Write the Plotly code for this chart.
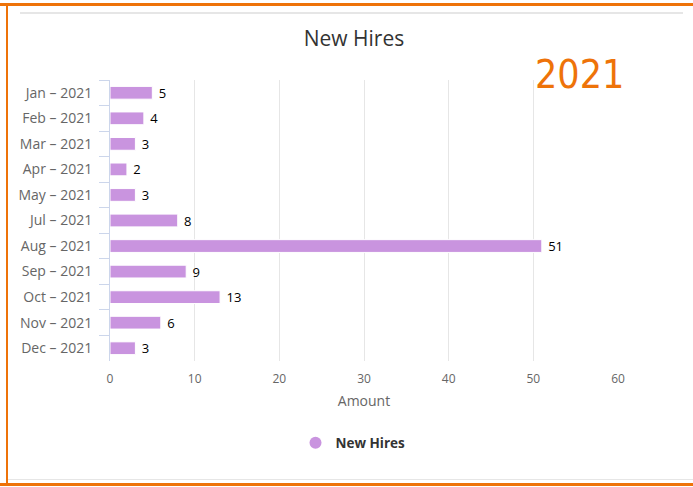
import plotly.graph_objects as go

categories = ["Jan – 2021", "Feb – 2021", "Mar – 2021", "Apr – 2021", "May – 2021",
              "Jul – 2021", "Aug – 2021", "Sep – 2021", "Oct – 2021", "Nov – 2021", "Dec – 2021"]
new_hires = [5, 4, 3, 2, 3, 8, 51, 9, 13, 6, 3]
x_ticks = [0, 10, 20, 30, 40, 50, 60]

W, H = 693, 487
ML, MR, MT, MB = 110, 75, 80, 126
PW, PH = W - ML - MR, H - MT - MB

def px(x):
    return (x - ML) / PW

def py(y):
    return (H - MB - y) / PH

FONT = "Open Sans, Noto Sans, sans-serif"
BAR = "#c994df"
ORANGE = "#ee7309"

fig = go.Figure()
fig.add_trace(go.Bar(
    x=new_hires, y=categories, orientation="h",
    marker=dict(color=BAR, line=dict(color="white", width=1)),
    width=0.5,
    text=new_hires, texttemplate="\u00a0%{x}", textposition="outside",
    constraintext="none", cliponaxis=False,
    textfont=dict(family=FONT, size=13, color="#000000"),
    showlegend=False, hoverinfo="skip",
))
fig.add_trace(go.Scatter(
    x=[None], y=[None], mode="markers", name="New Hires",
    marker=dict(color=BAR, size=12, symbol="circle"),
    showlegend=True,
))

shapes = []
# orange frame
shapes.append(dict(type="line", xref="paper", yref="paper", x0=px(0), x1=px(W), y0=py(4.5), y1=py(4.5),
                   line=dict(color=ORANGE, width=3)))
shapes.append(dict(type="line", xref="paper", yref="paper", x0=px(0), x1=px(W), y0=py(484.5), y1=py(484.5),
                   line=dict(color=ORANGE, width=3)))
shapes.append(dict(type="line", xref="paper", yref="paper", x0=px(7), x1=px(7), y0=py(4), y1=py(485),
                   line=dict(color=ORANGE, width=2)))
# grey separators
shapes.append(dict(type="line", xref="paper", yref="paper", x0=px(20), x1=px(683), y0=py(13), y1=py(13),
                   line=dict(color="#e6e6e6", width=2)))
shapes.append(dict(type="line", xref="paper", yref="paper", x0=px(8), x1=px(W), y0=py(479.5), y1=py(479.5),
                   line=dict(color="#e6e6e6", width=1)))

fig.update_layout(
    width=W, height=H,
    margin=dict(l=ML, r=MR, t=MT, b=MB, pad=0),
    paper_bgcolor="white", plot_bgcolor="white",
    font=dict(family=FONT, color="#666666"),
    title=dict(text="New Hires", x=354 / W, xref="container", xanchor="center",
               y=1 - 39 / H, yref="container", yanchor="middle",
               font=dict(family=FONT, size=21, color="#333333")),
    xaxis=dict(range=[0, 60], tickvals=x_ticks, showgrid=True, gridcolor="#e6e6e6", gridwidth=1,
               zeroline=False, showline=False, ticks="", ticklabelstandoff=9,
               tickfont=dict(family=FONT, size=12, color="#666666"),
               title=dict(text="Amount", standoff=10, font=dict(family=FONT, size=14, color="#666666")),
               fixedrange=True),
    yaxis=dict(categoryorder="array", categoryarray=categories, autorange="reversed",
               showline=True, linecolor="#ccd6eb", linewidth=1,
               ticks="outside", ticklen=10, tickcolor="#ccd6eb", tickson="boundaries",
               ticklabelstandoff=14, showgrid=False, zeroline=False,
               tickfont=dict(family=FONT, size=14, color="#666666"), fixedrange=True),
    bargap=0.5,
    legend=dict(orientation="h", x=px(353), xanchor="center", y=py(443), yanchor="middle",
                font=dict(family=FONT, size=13.5, color="#333333", weight="bold"),
                itemwidth=30, bgcolor="rgba(0,0,0,0)"),
    shapes=shapes,
    annotations=[dict(text="2021", xref="paper", yref="paper", x=px(579), y=py(75),
                      xanchor="center", yanchor="middle", showarrow=False,
                      font=dict(family="Noto Sans ExtraCondensed, Noto Sans Condensed, Liberation Sans Narrow, DejaVu Sans Condensed, sans-serif",
                                size=39, color=ORANGE))],
)

fig.write_html("out.html")
